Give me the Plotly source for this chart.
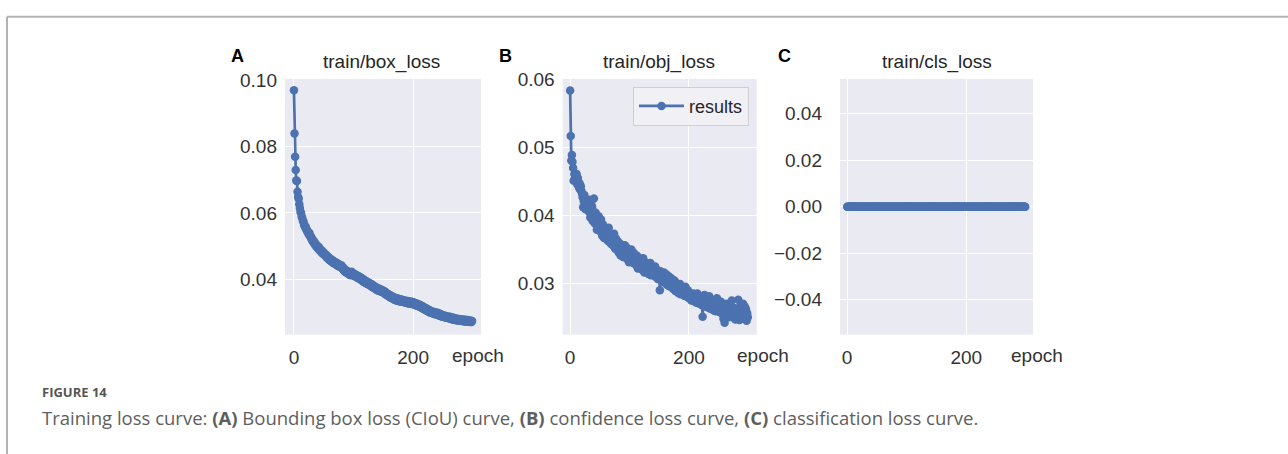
import plotly.graph_objects as go

W, H = 1288, 454

# ---------------- data ----------------
epochs = list(range(300))

box_loss = [
    .0969, .0839, .0769, .0729, .0698, .0696, .0664, .0648, .0643, .0626,
    .0615, .0604, .0600, .0589, .0585, .0576, .0574, .0564, .0563, .0556,
    .0557, .0549, .0549, .0542, .0543, .0535, .0540, .0530, .0531, .0523,
    .0525, .0516, .0519, .0511, .0514, .0505, .0508, .0500, .0504, .0497,
    .0501, .0492, .0497, .0488, .0492, .0484, .0488, .0480, .0484, .0477,
    .0481, .0474, .0477, .0472, .0474, .0466, .0470, .0463, .0467, .0459,
    .0464, .0457, .0461, .0454, .0458, .0451, .0456, .0449, .0453, .0447,
    .0452, .0444, .0449, .0442, .0447, .0440, .0445, .0438, .0443, .0437,
    .0442, .0433, .0437, .0429, .0433, .0425, .0429, .0422, .0427, .0420,
    .0425, .0417, .0422, .0415, .0420, .0413, .0421, .0423, .0414, .0418,
    .0412, .0417, .0410, .0415, .0408, .0413, .0406, .0411, .0404, .0409,
    .0402, .0407, .0400, .0405, .0397, .0402, .0395, .0400, .0392, .0397,
    .0390, .0395, .0388, .0393, .0386, .0391, .0384, .0389, .0382, .0387,
    .0380, .0385, .0377, .0382, .0375, .0380, .0373, .0377, .0370, .0375,
    .0368, .0373, .0366, .0372, .0365, .0370, .0363, .0369, .0362, .0367,
    .0361, .0365, .0358, .0363, .0355, .0360, .0353, .0357, .0350, .0355,
    .0348, .0353, .0346, .0351, .0344, .0349, .0342, .0347, .0340, .0345,
    .0338, .0344, .0337, .0343, .0336, .0342, .0335, .0341, .0334, .0340,
    .0334, .0339, .0333, .0338, .0332, .0337, .0331, .0336, .0330, .0335,
    .0329, .0335, .0328, .0334, .0328, .0333, .0327, .0333, .0326, .0332,
    .0326, .0331, .0324, .0329, .0323, .0328, .0321, .0327, .0320, .0325,
    .0319, .0324, .0317, .0322, .0315, .0320, .0313, .0318, .0311, .0316,
    .0309, .0314, .0307, .0312, .0305, .0310, .0303, .0308, .0301, .0306,
    .0300, .0304, .0299, .0303, .0297, .0302, .0296, .0301, .0295, .0300,
    .0296, .0300, .0293, .0298, .0291, .0297, .0290, .0295, .0289, .0293,
    .0288, .0292, .0287, .0291, .0286, .0290, .0285, .0289, .0284, .0288,
    .0284, .0288, .0282, .0287, .0281, .0286, .0280, .0285, .0279, .0284,
    .0278, .0283, .0278, .0282, .0277, .0281, .0277, .0281, .0276, .0280,
    .0276, .0280, .0275, .0279, .0275, .0279, .0274, .0279, .0274, .0278,
    .0274, .0278, .0273, .0277, .0273, .0277, .0272, .0276, .0272, .0275,
]

obj_loss = [
    .0584, .0517, .0481, .0489, .0479, .0470, .0451, .0461, .0455, .0459,
    .0452, .0461, .0446, .0455, .0449, .0441, .0447, .0438, .0443, .0436,
    .0432, .0427, .0412, .0421, .0430, .0418, .0409, .0424, .0415, .0420,
    .0411, .0423, .0405, .0416, .0397, .0410, .0401, .0413, .0392, .0406,
    .0425, .0398, .0388, .0404, .0393, .0379, .0396, .0386, .0399, .0384,
    .0389, .0376, .0394, .0381, .0370, .0387, .0378, .0367, .0383, .0374,
    .0380, .0369, .0377, .0363, .0375, .0382, .0361, .0372, .0366, .0358,
    .0371, .0360, .0367, .0355, .0373, .0362, .0351, .0366, .0357, .0349,
    .0362, .0353, .0345, .0359, .0350, .0341, .0357, .0348, .0354, .0339,
    .0352, .0344, .0356, .0338, .0347, .0353, .0336, .0349, .0342, .0331,
    .0346, .0340, .0335, .0350, .0337, .0343, .0330, .0345, .0334, .0339,
    .0336, .0327, .0341, .0333, .0322, .0338, .0330, .0325, .0336, .0328,
    .0333, .0320, .0329, .0337, .0324, .0316, .0331, .0322, .0327, .0318,
    .0329, .0321, .0314, .0326, .0319, .0330, .0312, .0323, .0317, .0324,
    .0315, .0322, .0311, .0325, .0318, .0309, .0320, .0313, .0306, .0317,
    .0312, .0290, .0318, .0308, .0314, .0303, .0311, .0306, .0316, .0301,
    .0308, .0302, .0313, .0298, .0306, .0311, .0296, .0303, .0309, .0295,
    .0301, .0297, .0306, .0292, .0300, .0295, .0304, .0289, .0298, .0293,
    .0290, .0297, .0286, .0294, .0288, .0299, .0284, .0291, .0287, .0293,
    .0285, .0290, .0282, .0288, .0295, .0281, .0287, .0283, .0290, .0279,
    .0284, .0278, .0286, .0280, .0275, .0283, .0277, .0285, .0274, .0280,
    .0276, .0283, .0272, .0279, .0285, .0271, .0277, .0282, .0270, .0278,
    .0274, .0280, .0268, .0251, .0276, .0271, .0283, .0266, .0274, .0270,
    .0278, .0265, .0272, .0268, .0281, .0263, .0270, .0266, .0276, .0262,
    .0269, .0274, .0260, .0267, .0272, .0259, .0266, .0278, .0261, .0264,
    .0270, .0258, .0265, .0262, .0273, .0256, .0263, .0268, .0248, .0264,
    .0242, .0267, .0259, .0263, .0270, .0255, .0261, .0250, .0266, .0258,
    .0262, .0254, .0275, .0259, .0250, .0264, .0256, .0261, .0247, .0260,
    .0257, .0263, .0252, .0276, .0255, .0246, .0262, .0258, .0249, .0265,
    .0253, .0270, .0248, .0259, .0266, .0251, .0262, .0245, .0256, .0250,
]

cls_loss = [0.0] * 300

x_ticks = [0, 200]
x_tick_labels = ["0", "200"]
box_ticks = [0.04, 0.06, 0.08, 0.10]
box_tick_labels = ["0.04", "0.06", "0.08", "0.10"]
obj_ticks = [0.03, 0.04, 0.05, 0.06]
obj_tick_labels = ["0.03", "0.04", "0.05", "0.06"]
cls_ticks = [-0.04, -0.02, 0.0, 0.02, 0.04]
cls_tick_labels = ["\u22120.04", "\u22120.02", "0.00", "0.02", "0.04"]

titles = ["train/box_loss", "train/obj_loss", "train/cls_loss"]
letters = ["A", "B", "C"]
series_name = "results"
caption_head = "FIGURE 14"
caption = ("Training loss curve: <b>(A)</b> Bounding box loss (CIoU) curve, "
           "<b>(B)</b> confidence loss curve, <b>(C)</b> classification loss curve.")

# ---------------- layout helpers ----------------
def px(x):
    return x / W

def py(y):
    return 1 - y / H

BLUE = "#4c72b0"
BG = "#eaeaf2"
TICKFONT = dict(family="Liberation Sans, Arial, sans-serif", size=19, color="#333333")

panels = [
    dict(x0=285.0, x1=481.0, xr=[-15, 314], yr=[0.0234, 0.1003],
         yt=box_ticks, ytl=box_tick_labels, ystand=7, y=box_loss, leg=False),
    dict(x0=562.7, x1=756.7, xr=[-12.5, 314], yr=[0.02245, 0.0601],
         yt=obj_ticks, ytl=obj_tick_labels, ystand=7, y=obj_loss, leg=True),
    dict(x0=840.0, x1=1033.0, xr=[-12, 312], yr=[-0.055, 0.055],
         yt=cls_ticks, ytl=cls_tick_labels, ystand=17, y=cls_loss, leg=False),
]
y_top, y_bot = 70.5, 332.0

fig = go.Figure()
layout = dict(
    width=W, height=H, margin=dict(l=0, r=0, t=0, b=0),
    paper_bgcolor="white", plot_bgcolor=BG,
    font=dict(family="Liberation Sans, Arial, sans-serif", color="#262626"),
    showlegend=True,
)

annotations = []
for i, p in enumerate(panels):
    n = "" if i == 0 else str(i + 1)
    fig.add_trace(go.Scatter(
        x=epochs, y=p["y"], mode="lines+markers", name=series_name,
        line=dict(color=BLUE, width=2.7),
        marker=dict(color=BLUE, size=8.5),
        showlegend=p["leg"],
        xaxis="x" + n, yaxis="y" + n,
    ))
    layout["xaxis" + n] = dict(
        domain=[px(p["x0"]), px(p["x1"])], range=p["xr"], anchor="y" + n,
        tickvals=x_ticks, ticktext=x_tick_labels, tickfont=TICKFONT,
        showgrid=True, gridcolor="white", gridwidth=1.3, zeroline=False,
        showline=False, ticks="", ticklabelstandoff=9,
    )
    layout["yaxis" + n] = dict(
        domain=[py(y_bot), py(y_top)], range=p["yr"], anchor="x" + n,
        tickvals=p["yt"], ticktext=p["ytl"], tickfont=TICKFONT,
        showgrid=True, gridcolor="white", gridwidth=1.3, zeroline=False,
        showline=False, ticks="", ticklabelstandoff=p["ystand"],
    )

title_x = [382, 659, 937]
letter_x = [238, 505, 784]
epoch_x = [478, 763, 1037]
for i in range(3):
    annotations.append(dict(
        x=px(title_x[i]), y=py(53), xref="paper", yref="paper",
        text=titles[i], showarrow=False, xanchor="center", yanchor="middle",
        font=dict(family="Liberation Sans, Arial, sans-serif", size=19, color="#262626"),
    ))
    annotations.append(dict(
        x=px(letter_x[i]), y=py(47), xref="paper", yref="paper",
        text="<b>" + letters[i] + "</b>", showarrow=False,
        xanchor="center", yanchor="middle",
        font=dict(family="Liberation Sans, Arial, sans-serif", size=18, color="black"),
    ))
    annotations.append(dict(
        x=px(epoch_x[i]), y=py(353), xref="paper", yref="paper",
        text="epoch", showarrow=False, xanchor="center", yanchor="middle",
        font=TICKFONT,
    ))

annotations.append(dict(
    x=px(40), y=py(401.5), xref="paper", yref="paper",
    text="<b>" + caption_head + "</b>", showarrow=False,
    xanchor="left", yanchor="bottom",
    font=dict(family="Open Sans, Noto Sans, sans-serif", size=13, color="#555555"),
))
annotations.append(dict(
    x=px(40), y=py(402), xref="paper", yref="paper",
    text=caption, showarrow=False, xanchor="left", yanchor="top",
    font=dict(family="Open Sans, Noto Sans, sans-serif", size=18.5, color="#5e5e5e"),
))

layout["annotations"] = annotations
layout["legend"] = dict(
    x=px(633), y=py(78.5), xanchor="left", yanchor="top",
    bgcolor="rgba(240,240,245,1)", bordercolor="#cfcfcf", borderwidth=1,
    font=dict(family="Liberation Sans, Arial, sans-serif", size=18, color="#262626"),
    itemwidth=45,
)
layout["shapes"] = [
    dict(type="line", xref="paper", yref="paper", x0=px(7), x1=1, y0=py(7), y1=py(7),
         line=dict(color="#b3b3b3", width=2)),
    dict(type="line", xref="paper", yref="paper", x0=px(7), x1=px(7), y0=py(7), y1=0,
         line=dict(color="#b3b3b3", width=2)),
]
fig.update_layout(**layout)
fig.write_html("out.html", config={"displayModeBar": False},
               post_script="document.body.style.margin='0';")
